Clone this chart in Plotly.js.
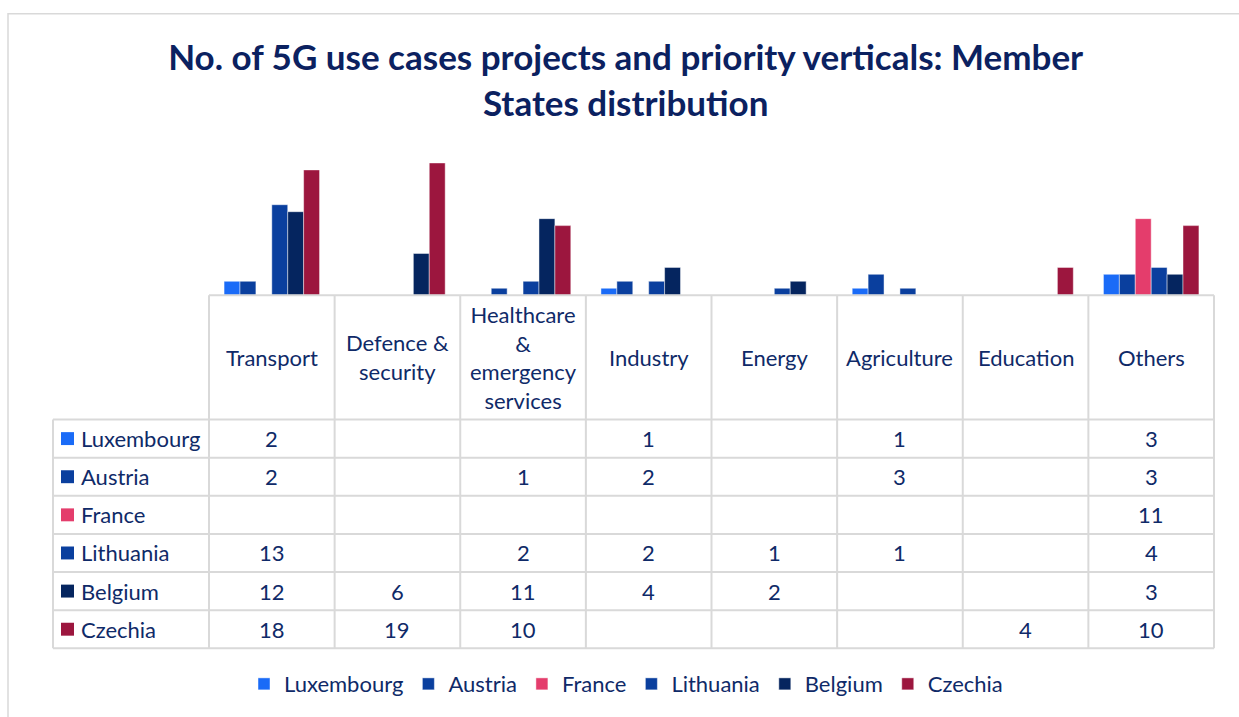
<!DOCTYPE html>
<html>
<head>
<meta charset="utf-8">
<script src="https://cdn.plot.ly/plotly-3.0.1.min.js"></script>
<style>
  html, body { margin: 0; padding: 0; background: #fff; }
  #chart { width: 1239px; height: 717px; }
</style>
</head>
<body>
<div id="chart"></div>
<script>
// categories (header cells) and the text drawn in them
const verticals = ["Transport", "Defence & security", "Healthcare & emergency services",
  "Industry", "Energy", "Agriculture", "Education", "Others"];
const headerText = ["Transport", "Defence &<br>security", "Healthcare<br>&<br>emergency<br>services",
  "Industry", "Energy", "Agriculture", "Education", "Others"];

const countries = ["Luxembourg", "Austria", "France", "Lithuania", "Belgium", "Czechia"];
const colors = ["#1a6bf7", "#0a3f9e", "#e43d6c", "#0a3f9e", "#05255f", "#9c163e"];

// project counts per country, null = blank cell
const luxembourg = [2, null, null, 1, null, 1, null, 3];
const austria    = [2, null, 1, 2, null, 3, null, 3];
const france     = [null, null, null, null, null, null, null, 11];
const lithuania  = [13, null, 2, 2, 1, 1, null, 4];
const belgium    = [12, 6, 11, 4, 2, null, null, 3];
const czechia    = [18, 19, 10, null, null, null, 4, 10];
const series = [luxembourg, austria, france, lithuania, belgium, czechia];

const navy = "#0f2a68";
const gridCol = "#d9d9d9";
const font = "Lato, 'Open Sans', sans-serif";

// page geometry (px): paper spans L..R and T..PB, bars sit in T..B
const L = 209, R = 1214, T = 156, B = 296, PB = 700;
const px = (x) => (x - L) / (R - L);
const py = (y) => (PB - y) / (PB - T);

const headTop = 296, headBot = 421, rowH = (651 - 421) / 6, labelLeft = 53;
const colW = (R - L) / verticals.length;

const data = series.map((vals, i) => ({
  type: "bar",
  name: countries[i],
  x: verticals,
  y: vals,
  marker: { color: colors[i], line: { color: "rgba(255,255,255,0.45)", width: 1 } },
  hoverinfo: "x+y+name"
}));

const shapes = [];
const annotations = [];
const line = { color: gridCol, width: 2 };
const txt = { family: font, size: 22, color: navy };

// outer chart frame
shapes.push({ type: "rect", xref: "paper", yref: "paper",
  x0: px(8), x1: px(1245), y0: py(13), y1: py(725), line: { color: gridCol, width: 1.5 } });

// table grid
shapes.push({ type: "line", xref: "paper", yref: "paper", x0: px(L), x1: px(R), y0: py(headTop), y1: py(headTop), line });
for (let r = 0; r <= countries.length; r++) {
  const y = headBot + r * rowH;
  shapes.push({ type: "line", xref: "paper", yref: "paper", x0: px(labelLeft), x1: px(R), y0: py(y), y1: py(y), line });
}
for (let c = 0; c <= verticals.length; c++) {
  const x = L + c * colW;
  shapes.push({ type: "line", xref: "paper", yref: "paper", x0: px(x), x1: px(x), y0: py(headTop), y1: py(651), line });
}
shapes.push({ type: "line", xref: "paper", yref: "paper", x0: px(labelLeft), x1: px(labelLeft), y0: py(headBot), y1: py(651), line });

// header labels
verticals.forEach((v, c) => {
  annotations.push({ xref: "x", yref: "paper", x: v, y: py((headTop + headBot) / 2),
    xanchor: "center", yanchor: "middle",
    text: headerText[c], showarrow: false, align: "center", font: txt });
});

// row labels with colour keys and cell values
countries.forEach((name, r) => {
  const yc = headBot + (r + 0.5) * rowH;
  shapes.push({ type: "rect", xref: "paper", yref: "paper", x0: px(61), x1: px(74), y0: py(yc - 6.5), y1: py(yc + 6.5),
    fillcolor: colors[r], line: { width: 0 } });
  annotations.push({ xref: "paper", yref: "paper", x: px(79), y: py(yc), xanchor: "left", yanchor: "middle",
    text: name, showarrow: false, font: txt });
  series[r].forEach((v, c) => {
    if (v === null) return;
    annotations.push({ xref: "x", yref: "paper", x: verticals[c], y: py(yc), xanchor: "center", yanchor: "middle",
      text: String(v), showarrow: false, font: txt });
  });
});

const layout = {
  width: 1239, height: 717,
  margin: { l: L, r: 1239 - R, t: T, b: 717 - PB },
  paper_bgcolor: "#fff", plot_bgcolor: "#fff",
  barmode: "group", bargap: 0.24, bargroupgap: 0,
  title: { text: "<b>No. of 5G use cases projects and priority verticals: Member<br>States distribution</b>",
    x: 0.505, xanchor: "center", y: 1 - 70 / 717, yanchor: "middle",
    font: { family: font, size: 35, color: "#0b2160" } },
  xaxis: { range: [-0.5, 7.5], showticklabels: false, ticks: "", showgrid: false, zeroline: false, showline: false, fixedrange: true },
  yaxis: { range: [0, 20], visible: false, fixedrange: true, domain: [py(B), 1] },
  showlegend: true,
  legend: { orientation: "h", x: px(626), xanchor: "center", y: py(687), yanchor: "middle",
    font: txt, itemwidth: 30, traceorder: "normal" },
  shapes, annotations
};

Plotly.newPlot("chart", data, layout, { displayModeBar: false, staticPlot: true });
</script>
</body>
</html>
